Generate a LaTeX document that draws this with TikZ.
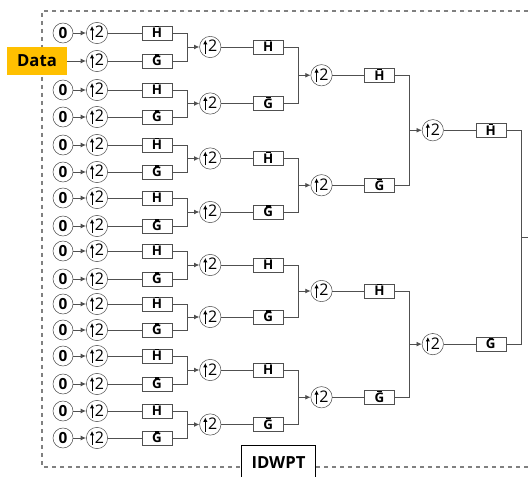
\documentclass[tikz,border=0pt]{standalone}
\usepackage{fontspec}
\setmainfont{Open Sans}
\usetikzlibrary{arrows.meta,calc}
\definecolor{linegray}{RGB}{80,80,80}
\definecolor{dataorange}{RGB}{255,192,0}
% upsampling symbol: small arrow followed by 2
\newcommand{\upby}{\tikz[baseline=0pt]\draw[-{Latex[length=3.2pt,width=3.2pt]},line width=0.6pt] (0pt,-1.5pt)--(0pt,9pt);\kern0.6pt 2}
% filter letter with a short bar on top
\newcommand{\flt}[1]{\ooalign{#1\cr\hidewidth\smash{\raisebox{7.7pt}{\rule{3.4pt}{0.8pt}}}\hidewidth\cr}}

\begin{document}
\begin{tikzpicture}[x=0.75pt,y=-0.75pt,every node/.style={align=center},
   box/.style={draw=linegray,fill=white,minimum width=22.5pt,minimum height=10.5pt,inner sep=0pt,
     font=\bfseries\fontsize{10}{10}\selectfont},
   src/.style={circle,draw=linegray,minimum size=15pt,inner sep=0pt,font=\bfseries\fontsize{11.5}{11.5}\selectfont},
   up/.style={circle,draw=linegray,minimum size=16pt,inner sep=0pt,font=\fontsize{12}{12}\selectfont},
   wire/.style={draw=linegray,line width=0.6pt},
   arr/.style={wire,-{Latex[length=4pt,width=3.6pt]}}]
  \useasboundingbox (0,0) rectangle (528,477);
  \draw[gray,dashed,line width=0.8pt] (528,11) -| (42,467) -- (528,467);
  \node[draw=black,fill=white,minimum width=55.5pt,minimum height=27pt,
     font=\bfseries\fontsize{12.5}{12.5}\selectfont] (idwpt) at (278.5,463) {IDWPT};
  \node[fill=dataorange,minimum width=45pt,minimum height=21pt,inner sep=0pt,
     font=\bfseries\fontsize{12.5}{12.5}\selectfont] (data) at (37,61) {Data};
  % first stage
  \foreach \y [count=\i from 0] in {33,61,90,117,145,172,198,226,251,279,304,330,356,384,411,438} {
    \node[up] (u1-\i) at (97,\y) {\upby};
    \node[box] (b1-\i) at (157,\y) {\ifodd\i\flt{G}\else\flt{H}\fi};
    \draw[wire] (u1-\i) -- (b1-\i);
    \ifnum\i=1 \else
      \node[src] (s-\i) at (63,\y) {0};
      \draw[arr] (s-\i) -- (u1-\i);
    \fi
  }
  \draw[arr] (data.east |- u1-1) -- (u1-1);
  % later stages
  \foreach \lv/\n in {2/8,3/4,4/2} {
    \pgfmathtruncatemacro\pv{\lv-1}
    \pgfmathtruncatemacro\last{\n-1}
    \foreach \j in {0,...,\last} {
      \pgfmathtruncatemacro\a{2*\j}
      \pgfmathtruncatemacro\b{2*\j+1}
      \coordinate (m\pv-\j) at ($(b\pv-\a.east)!0.5!(b\pv-\b.east)+(15,0)$);
      \draw[wire] (b\pv-\a.east) -| (m\pv-\j) |- (b\pv-\b.east);
      \node[up] (u\lv-\j) at ($(m\pv-\j)+(23,0)$) {\upby};
      \node[box] (b\lv-\j) at ($(u\lv-\j)+(58,0)$) {\ifodd\j\flt{G}\else\flt{H}\fi};
      \draw[arr] (m\pv-\j) -- (u\lv-\j);
      \draw[wire] (u\lv-\j) -- (b\lv-\j);
    }
  }
  \coordinate (m4-0) at ($(b4-0.east)!0.5!(b4-1.east)+(15,0)$);
  \coordinate (out) at ($(m4-0)+(8,0)$);
  \draw[wire] (b4-0.east) -| (m4-0) |- (b4-1.east);
  \draw[wire,line width=1pt] (m4-0) -- (out);
\end{tikzpicture}
\end{document}
